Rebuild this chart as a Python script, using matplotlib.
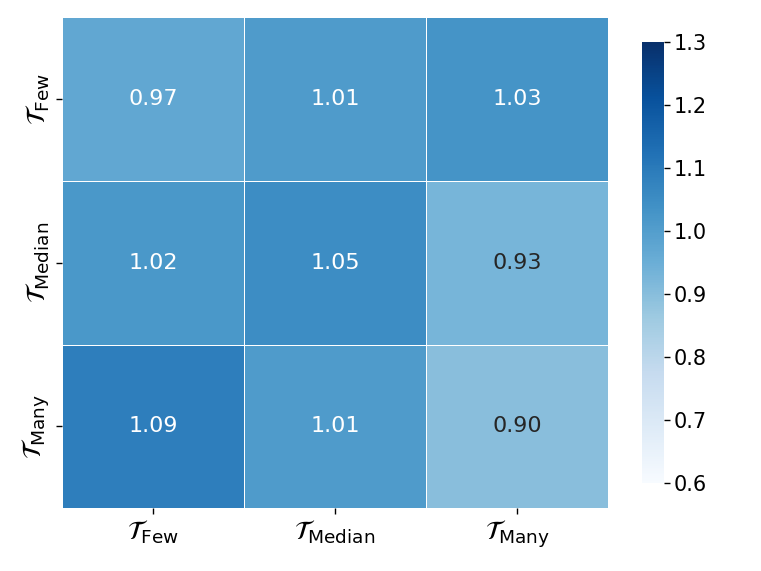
import matplotlib
matplotlib.use("Agg")
import matplotlib.pyplot as plt
import seaborn as sns
import numpy as np

row_labels = [r"$\mathcal{T}_{\mathrm{Few}}$", r"$\mathcal{T}_{\mathrm{Median}}$", r"$\mathcal{T}_{\mathrm{Many}}$"]
col_labels = [r"$\mathcal{T}_{\mathrm{Few}}$", r"$\mathcal{T}_{\mathrm{Median}}$", r"$\mathcal{T}_{\mathrm{Many}}$"]
values = np.array([
    [0.97, 1.01, 1.03],
    [1.02, 1.05, 0.93],
    [1.09, 1.01, 0.90],
])

fig = plt.figure(figsize=(7.61, 5.71), dpi=100)
ax = fig.add_axes([0.0815, 0.110, 0.7175, 0.860])
cax = fig.add_axes([0.843, 0.154, 0.029, 0.772])
sns.heatmap(values, ax=ax, cbar_ax=cax, cmap="Blues", vmin=0.6, vmax=1.3,
            annot=True, fmt=".2f", annot_kws={"size": 16},
            linewidths=0.5, linecolor="white",
            xticklabels=col_labels, yticklabels=row_labels)
ax.tick_params(axis="both", labelsize=19, length=4, width=1)
ax.set_yticklabels(row_labels, rotation=90, va="center")
ax.set_xticklabels(col_labels, rotation=0)
cax.tick_params(labelsize=15, length=4, width=1)
for s in cax.spines.values():
    s.set_visible(False)
fig.savefig("out.png", dpi=100)
